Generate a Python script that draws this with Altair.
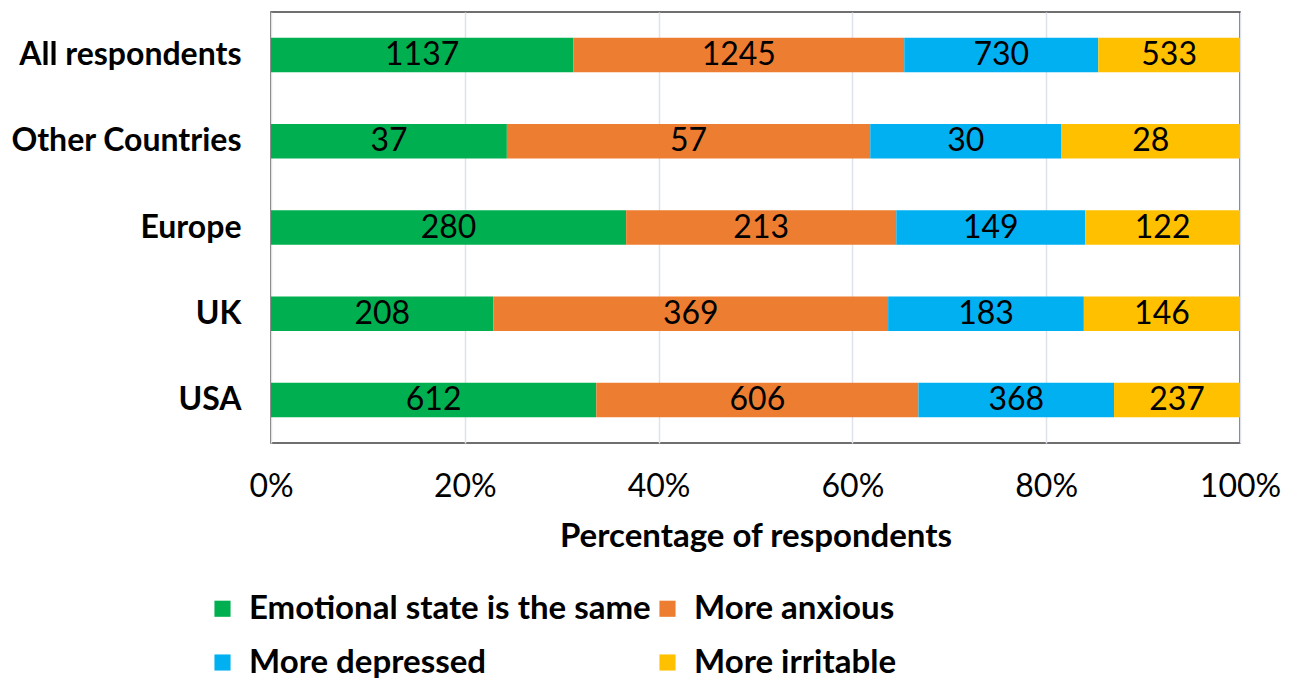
import altair as alt
import pandas as pd

regions = ["All respondents", "Other Countries", "Europe", "UK", "USA"]
series = ["Emotional state is the same", "More anxious", "More depressed", "More irritable"]
same = [1137, 37, 280, 208, 612]
anxious = [1245, 57, 213, 369, 606]
depressed = [730, 30, 149, 183, 368]
irritable = [533, 28, 122, 146, 237]
colors = ["#00B050", "#ED7D31", "#00B0F0", "#FFC000"]
ticks = [0, 0.2, 0.4, 0.6, 0.8, 1.0]

rows = []
for i, r in enumerate(regions):
    for j, (s, vals) in enumerate(zip(series, [same, anxious, depressed, irritable])):
        rows.append({"region": r, "series": s, "order": j, "count": vals[i]})
df = pd.DataFrame(rows)

FONT = "Lato"

base = alt.Chart(df).transform_joinaggregate(
    total="sum(count)", groupby=["region"]
).transform_calculate(
    pct="datum.count / datum.total"
).transform_window(
    cum="sum(pct)", groupby=["region"], sort=[alt.SortField("order")], frame=[None, 0]
).transform_calculate(
    start="datum.cum - datum.pct", mid="datum.cum - datum.pct / 2"
)

y = alt.Y("region:N", sort=regions, title=None,
          scale=alt.Scale(paddingInner=0.6, paddingOuter=0.3),
          axis=alt.Axis(labelFontSize=32, labelFontWeight="bold", labelFont=FONT,
                        labelColor="black", labelPadding=30, ticks=False, domain=False,
                        labelLimit=400))

bars = base.mark_bar().encode(
    x=alt.X("start:Q", scale=alt.Scale(domain=[0, 1], nice=False),
            title="Percentage of respondents",
            axis=alt.Axis(format="%", values=ticks, labelFontSize=32, labelFont=FONT,
                          labelColor="black", labelPadding=28, ticks=False, domain=False,
                          labelFlush=False,
                          grid=True, gridColor="#DEE3EB", gridWidth=1.5,
                          titleFontSize=33, titleFont=FONT, titleFontWeight="bold",
                          titleColor="black", titlePadding=18)),
    x2="cum:Q",
    y=y,
    color=alt.Color("series:N", sort=series,
                    scale=alt.Scale(domain=series, range=colors),
                    legend=alt.Legend(title=None, orient="none", legendX=-65, legendY=580,
                                      columns=2, direction="horizontal",
                                      symbolType="square", symbolSize=260,
                                      symbolStrokeWidth=0, labelFontSize=33,
                                      labelFont=FONT, labelFontWeight="bold",
                                      labelColor="black", labelOffset=10,
                                      columnPadding=0, rowPadding=20,
                                      labelLimit=600)),
)

text = base.mark_text(fontSize=32, font=FONT, color="black").encode(
    x=alt.X("mid:Q"),
    y=alt.Y("region:N", sort=regions),
    text=alt.Text("count:Q"),
)

chart = (bars + text).properties(
    width=969, height=431,
    autosize=alt.AutoSizeParams(type="none"),
    padding={"left": 263, "top": 4, "right": 44, "bottom": 235},
).configure_view(stroke="#404040", strokeWidth=1.5)

chart.save("out.html", embed_options={"renderer": "svg", "actions": False})
